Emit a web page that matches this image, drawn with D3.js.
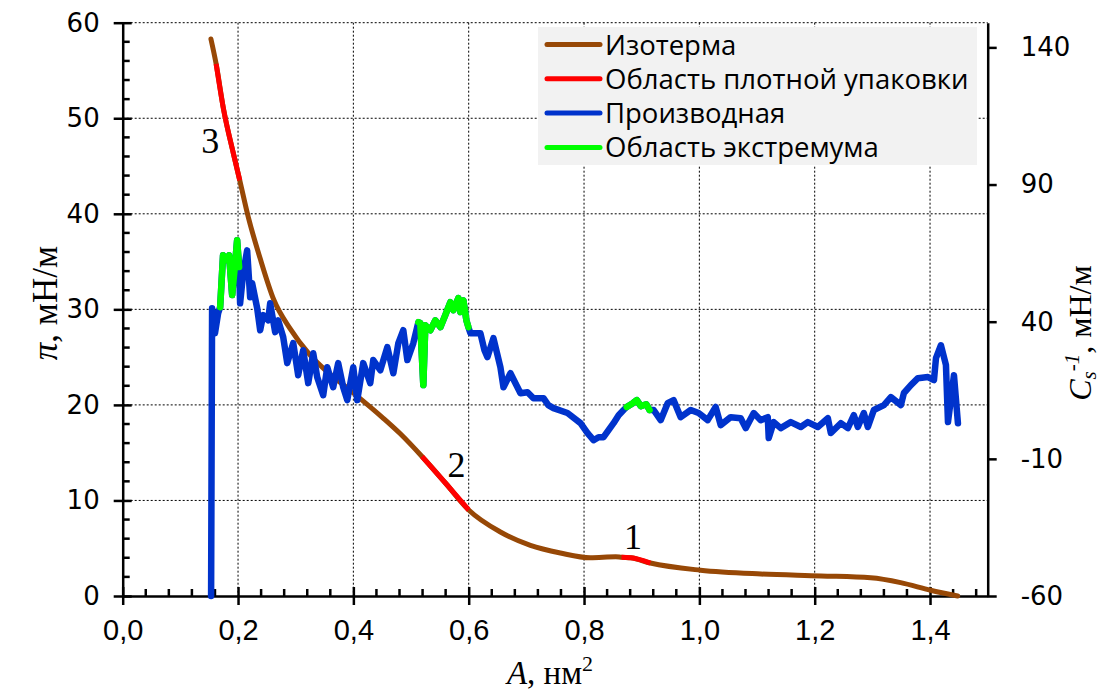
<!DOCTYPE html>
<html>
<head>
<meta charset="utf-8">
<script src="https://cdn.jsdelivr.net/npm/d3@7"></script>
<style>
body { margin: 0; background: #fff; }
</style>
</head>
<body>
<div id="chart"></div>
<script>
// isotherm: area A (nm2) vs surface pressure (mN/m)
let isoA = [0.153, 0.162, 0.175, 0.192, 0.203, 0.218, 0.238, 0.262, 0.29, 0.325, 0.354, 0.395, 0.452, 0.481, 0.519, 0.56, 0.6,
    0.655, 0.707, 0.759, 0.811, 0.855, 0.865, 0.881, 0.915, 1.002, 1.107, 1.211, 1.297, 1.349, 1.401, 1.448];
let isoP = [58.3, 55.7, 50.9, 46.3, 43.5, 39.6, 35.4, 31.0, 28.0, 25.2, 23.5, 21.5, 18.6, 17.0, 14.6, 11.8, 9.0,
    6.7, 5.3, 4.5, 4.0, 4.1, 4.05, 4.0, 3.45, 2.7, 2.3, 2.1, 1.9, 1.4, 0.6, 0.0];
// close packing regions (A from..to)
let packRanges = [[0.162, 0.203], [0.519, 0.6], [0.865, 0.915]];

// derivative Cs^-1 (mN/m), right axis
let derA = [0.1533, 0.155, 0.160, 0.1655, 0.169, 0.174, 0.181, 0.1845, 0.1898, 0.195, 0.1984, 0.2019,
    0.2036, 0.2089, 0.2158, 0.221, 0.2245, 0.2332, 0.2384, 0.2436, 0.2523, 0.2557, 0.2644, 0.2696, 0.2783,
    0.2853, 0.2957, 0.3043, 0.313, 0.3217, 0.3304, 0.3373, 0.3477, 0.3547, 0.365, 0.3737, 0.3824, 0.3894,
    0.3998, 0.4067, 0.4171, 0.4293, 0.4345, 0.4467, 0.4589, 0.4693, 0.478, 0.4866, 0.4936, 0.504, 0.5127,
    0.516, 0.5213, 0.5248, 0.5335, 0.5422, 0.5509, 0.5595, 0.5682, 0.5734, 0.5821, 0.5856, 0.5908, 0.596, 0.5995,
    0.603, 0.6203, 0.6273, 0.6325, 0.6429, 0.655, 0.6603, 0.6724, 0.6898, 0.702, 0.7123, 0.7297, 0.738, 0.747,
    0.7713, 0.7939, 0.8061, 0.8165, 0.8252, 0.8338, 0.8425, 0.8512, 0.86, 0.8686,
    0.874, 0.8846, 0.8915, 0.8985, 0.908, 0.9137,
    0.9207, 0.9329, 0.945, 0.9554, 0.9676, 0.985, 0.9987, 1.0144, 1.0283, 1.037, 1.0543, 1.0717, 1.0804,
    1.0943, 1.1064, 1.1186, 1.1203, 1.129, 1.1411, 1.1585, 1.1759, 1.188, 1.2054, 1.2228, 1.228, 1.2453,
    1.2575, 1.2679, 1.2748, 1.2852, 1.2922, 1.3026, 1.32, 1.3321, 1.3495, 1.3547, 1.3668, 1.379, 1.3964,
    1.4068, 1.4103, 1.4189, 1.4276, 1.4311, 1.4415, 1.4484];
let derC = [-60, 44.9, 35.8, 43.1, 45.3, 64.2, 62.4, 64.2, 49.7, 61.3, 69.7, 59.9,
    46.7, 57.7, 66.0, 48.9, 54.0, 44.9, 36.9, 42.4, 40.5, 46.7, 36.2, 40.5, 34.4,
    24.9, 32.2, 20.5, 29.6, 17.6, 28.5, 19.8, 13.2, 23.4, 16.1, 24.9, 16.1, 11.4,
    23.4, 11.4, 24.9, 17.6, 26.0, 22.3, 30.7, 21.2, 32.2, 36.9, 26.0, 32.2, 39.8,
    39.5, 16.9, 38.7, 36.9, 40.5, 38.0, 42.4, 47.1, 44.2, 48.6, 43.5, 47.8, 40.5, 38.0,
    35.8, 35.8, 29.6, 27.1, 34.0, 23.4, 16.1, 21.2, 13.9, 14.3, 12.1, 12.1, 9.6, 8.5,
    6.7, 3.0, -0.6, -3.2, -2.1, -2.1, 0.5, 3.0, 5.9, 7.8,
    8.9, 10.3, 11.4, 9.2, 9.9, 7.8,
    7.8, 4.1, 10.3, 11.4, 5.2, 7.8, 6.7, 4.1, 8.9, 2.3, 5.2, 4.8, 1.2,
    6.7, 4.1, 5.2, -2.4, 3.4, 1.2, 3.4, 1.6, 3.4, 1.6, 4.8, -0.6, 3.0,
    1.2, 5.9, 1.6, 6.7, 1.6, 7.8, 9.6, 12.5, 9.6, 14.0, 16.9, 19.4, 19.8,
    18.7, 26.7, 31.4, 24.2, 3.4, 20.5, 3.0];
// extremum regions (A from..to)
let extRanges = [[0.169, 0.2019], [0.5127, 0.5995], [0.874, 0.9137]];

let xTicks = [0, 0.2, 0.4, 0.6, 0.8, 1.0, 1.2, 1.4];
let yTicks = [0, 10, 20, 30, 40, 50, 60];
let y2Ticks = [-60, -10, 40, 90, 140];
let legendNames = ["Изотерма", "Область плотной упаковки", "Производная", "Область экстремума"];
let legendColors = ["#974806", "#ff0000", "#0033cc", "#00ff00"];
let pointLabels = ["1", "2", "3"];
let pointLabelA = [0.885, 0.579, 0.152];
let pointLabelP = [4.9, 12.5, 46.4];

let W = 1104, H = 694;
let m = {top: 22.7, right: 116.3, bottom: 98, left: 122.7};

let svg = d3.select("#chart")
    .append("svg")
    .attr("width", W)
    .attr("height", H);

let x = d3.scaleLinear().domain([0, 1.5]).range([m.left, W - m.right]);
let y = d3.scaleLinear().domain([0, 60]).range([H - m.bottom, m.top]);
let y2 = d3.scaleLinear().domain([-60, 149]).range([H - m.bottom, m.top]);

// grid
let grid = svg.append("g").attr("stroke", "#000").attr("stroke-width", 1).attr("stroke-dasharray", "2,2");
grid.selectAll("line.h")
    .data(yTicks.slice(1))
    .enter()
    .append("line")
    .attr("x1", m.left).attr("x2", W - m.right)
    .attr("y1", (d) => y(d)).attr("y2", (d) => y(d));
grid.selectAll("line.v")
    .data(xTicks.slice(1))
    .enter()
    .append("line")
    .attr("x1", (d) => x(d)).attr("x2", (d) => x(d))
    .attr("y1", m.top).attr("y2", H - m.bottom);

// axes
let xMinor = d3.range(0, 1.5, 0.04).filter((d) => Math.abs(d / 0.2 - Math.round(d / 0.2)) > 0.01);
let yMinor = d3.range(0, 60, 2).filter((d) => d % 10 !== 0);

let xAxis = svg.append("g")
    .attr("transform", "translate(0," + (H - m.bottom) + ")")
    .call(d3.axisBottom(x).tickValues(xTicks).tickSize(9).tickSizeOuter(0).tickFormat((d) => d3.format(".1f")(d).replace(".", ",")));
xAxis.selectAll(".tick line").attr("y1", -9);
xAxis.selectAll("text")
    .attr("dy", null)
    .attr("y", 44)
    .style("font-family", "'Liberation Sans Narrow', 'Arial Narrow', sans-serif")
    .style("font-size", "29px");
xAxis.selectAll(".minor")
    .data(xMinor)
    .enter()
    .append("line")
    .attr("x1", (d) => x(d)).attr("x2", (d) => x(d))
    .attr("y1", 0).attr("y2", -7)
    .attr("stroke", "#000");

let yAxis = svg.append("g")
    .attr("transform", "translate(" + m.left + ",0)")
    .call(d3.axisLeft(y).tickValues(yTicks).tickSize(9).tickSizeOuter(0).tickPadding(14));
yAxis.selectAll(".tick line").attr("x1", 9);
yAxis.selectAll("text")
    .style("font-family", "'DejaVu Sans', Verdana, sans-serif")
    .style("font-size", "26px");
yAxis.selectAll(".minor")
    .data(yMinor)
    .enter()
    .append("line")
    .attr("y1", (d) => y(d)).attr("y2", (d) => y(d))
    .attr("x1", 0).attr("x2", 7)
    .attr("stroke", "#000");

let y2Axis = svg.append("g")
    .attr("transform", "translate(" + (W - m.right) + ",0)")
    .call(d3.axisRight(y2).tickValues(y2Ticks).tickSize(9).tickSizeOuter(0).tickPadding(24).tickFormat((d) => String(d)));
y2Axis.selectAll("text")
    .style("font-family", "'DejaVu Sans', Verdana, sans-serif")
    .style("font-size", "26px");

[xAxis, yAxis, y2Axis].forEach((a) => {
    a.select(".domain").attr("stroke-width", 2.5);
    a.selectAll("line").attr("stroke-width", 2.5);
});

// isotherm
let isoData = isoA.map((a, i) => [a, isoP[i]]);
let isoLine = d3.line().x((d) => x(d[0])).y((d) => y(d[1])).curve(d3.curveMonotoneX);

svg.append("path")
    .attr("d", isoLine(isoData))
    .attr("fill", "none")
    .attr("stroke", legendColors[0])
    .attr("stroke-width", 5)
    .attr("stroke-linecap", "round");

packRanges.forEach((r) => {
    let seg = isoData.filter((d) => d[0] >= r[0] && d[0] <= r[1]);
    svg.append("path")
        .attr("d", isoLine(seg))
        .attr("fill", "none")
        .attr("stroke", legendColors[1])
        .attr("stroke-width", 5);
});

// derivative
let derData = derA.map((a, i) => [a, derC[i]]);
let derLine = d3.line().x((d) => x(d[0])).y((d) => y2(d[1]));

svg.append("path")
    .attr("d", derLine(derData))
    .attr("fill", "none")
    .attr("stroke", legendColors[2])
    .attr("stroke-width", 6.5)
    .attr("stroke-linejoin", "round")
    .attr("stroke-linecap", "round");

extRanges.forEach((r) => {
    let seg = derData.filter((d) => d[0] >= r[0] && d[0] <= r[1]);
    svg.append("path")
        .attr("d", derLine(seg))
        .attr("fill", "none")
        .attr("stroke", legendColors[3])
        .attr("stroke-width", 6.5)
        .attr("stroke-linejoin", "round")
        .attr("stroke-linecap", "round");
});

// point labels
svg.selectAll("text.num")
    .data(pointLabels)
    .enter()
    .append("text")
    .attr("x", (d, i) => x(pointLabelA[i]))
    .attr("y", (d, i) => y(pointLabelP[i]))
    .attr("text-anchor", "middle")
    .style("font-family", "'Liberation Serif', 'Times New Roman', serif")
    .style("font-size", "36px")
    .text((d) => d);

// legend
let lg = svg.append("g").attr("transform", "translate(538,27)");
lg.append("rect")
    .attr("width", 439)
    .attr("height", 138)
    .attr("fill", "#f2f2f2");
legendNames.forEach((name, i) => {
    let cy = 17.5 + i * 34.3;
    lg.append("line")
        .attr("x1", 9).attr("x2", 62)
        .attr("y1", cy).attr("y2", cy)
        .attr("stroke", legendColors[i])
        .attr("stroke-width", 5)
        .attr("stroke-linecap", "round");
    lg.append("text")
        .attr("x", 67)
        .attr("y", cy + 10)
        .style("font-family", "'Open Sans', sans-serif")
        .style("font-size", "27.5px")
        .text(name);
});

// axis titles
let serif = "'Liberation Serif', 'Times New Roman', serif";
let t1 = svg.append("text")
    .attr("transform", "translate(57,303) rotate(-90)")
    .attr("text-anchor", "middle")
    .style("font-family", serif)
    .style("font-size", "35px");
t1.append("tspan").style("font-style", "italic").text("π");
t1.append("tspan").text(", мН/м");

let t2 = svg.append("text")
    .attr("x", 550)
    .attr("y", 684)
    .attr("text-anchor", "middle")
    .style("font-family", serif)
    .style("font-size", "33px");
t2.append("tspan").style("font-style", "italic").text("A");
t2.append("tspan").text(", нм");
t2.append("tspan").attr("dy", -13).style("font-size", "22px").text("2");

let t3 = svg.append("text")
    .attr("transform", "translate(1091,333) rotate(-90)")
    .attr("text-anchor", "middle")
    .style("font-family", serif)
    .style("font-size", "32px");
t3.append("tspan").style("font-style", "italic").text("C");
t3.append("tspan").attr("dy", 5).style("font-style", "italic").style("font-size", "21px").text("s");
t3.append("tspan").attr("dy", -17).style("font-style", "italic").style("font-size", "21px").text("-1");
t3.append("tspan").attr("dy", 12).text(", мН/м");
</script>
</body>
</html>
